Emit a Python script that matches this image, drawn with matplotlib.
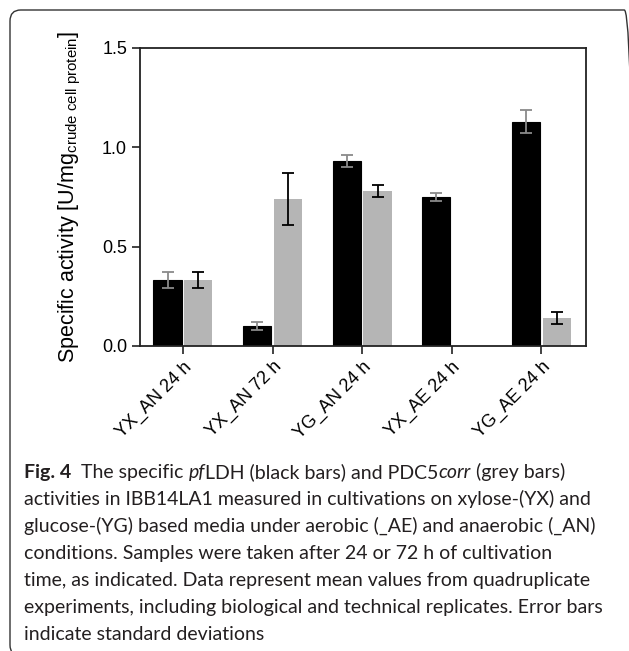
import matplotlib.pyplot as plt
import numpy as np
from matplotlib.patches import FancyBboxPatch

plt.rcParams['font.family'] = ['Liberation Sans', 'DejaVu Sans']
plt.rcParams['mathtext.fontset'] = 'custom'
plt.rcParams['mathtext.rm'] = 'Liberation Sans'
plt.rcParams['mathtext.it'] = 'Liberation Sans:italic'

# Samples (x axis)
samples = ['YX_AN 24 h', 'YX_AN 72 h', 'YG_AN 24 h', 'YX_AE 24 h', 'YG_AE 24 h']

# pfLDH (black bars)
ldh_mean = [0.33, 0.10, 0.93, 0.75, 1.13]
ldh_sd = [0.04, 0.02, 0.03, 0.02, 0.06]

# PDC5corr (grey bars), not measured for YX_AE 24 h
pdc_mean = [0.33, 0.74, 0.78, np.nan, 0.14]
pdc_sd = [0.04, 0.13, 0.03, np.nan, 0.03]

caption_lines = [
    'activities in IBB14LA1 measured in cultivations on xylose-(YX) and',
    'glucose-(YG) based media under aerobic (_AE) and anaerobic (_AN)',
    'conditions. Samples were taken after 24 or 72 h of cultivation',
    'time, as indicated. Data represent mean values from quadruplicate',
    'experiments, including biological and technical replicates. Error bars',
    'indicate standard deviations',
]

W, H = 629, 651
fig = plt.figure(figsize=(W / 100, H / 100), dpi=100)

# rounded frame around figure + caption (right and bottom edges fall off the canvas)
frame = FancyBboxPatch((10 / W, -5 / H), 625 / W, (H - 10 + 5) / H,
                       boxstyle='round,pad=0,rounding_size=0.017',
                       transform=fig.transFigure, fill=False,
                       edgecolor='#333333', linewidth=1.0)
fig.patches.append(frame)

ax = fig.add_axes([140 / W, (H - 346) / H, 446 / W, 298 / H])

x = np.arange(len(samples))
bw = 0.315
off = 0.172
fs = 13
ax.bar(x - off, ldh_mean, width=bw, color='black', edgecolor='black', linewidth=0.8)
ax.bar(x + off, pdc_mean, width=bw, color='#b5b5b5', linewidth=0)
ax.errorbar(x - off, ldh_mean, yerr=ldh_sd, fmt='none', ecolor='#8a8a8a',
            elinewidth=1.3, capsize=4.6, capthick=1.3)
ax.errorbar(x + off, pdc_mean, yerr=pdc_sd, fmt='none', ecolor='black',
            elinewidth=1.3, capsize=4.6, capthick=1.3)

ax.set_xlim(-0.48, 4.5)
ax.set_ylim(0, 1.5)
ax.set_yticks([0.0, 0.5, 1.0, 1.5])
ax.set_yticklabels(['0.0', '0.5', '1.0', '1.5'], fontsize=fs)
ax.set_xticks(x)
ax.set_xticklabels(samples, rotation=45, ha='right', rotation_mode='anchor', fontsize=fs)
ax.tick_params(axis='both', length=5.8, width=1.2, direction='out', color='#222222')
ax.tick_params(axis='x', pad=3)
for s in ax.spines.values():
    s.set_linewidth(1.3)
    s.set_color('#222222')
ax.set_ylabel(r'Specific activity [U/mg$_{\mathrm{crude\ cell\ protein}}$]', fontsize=15.5)
ax.yaxis.set_label_coords(-0.128, 0.5)

# caption
cap_font = 'Lato'
cap_size = 14.0
cap_color = '#231f20'
cap_x = 24 / W
baselines = [478, 505, 532, 559, 586, 613, 640]
pieces = [('Fig. 4', 'bold', 'normal'), ('  The specific ', 'normal', 'normal'),
          ('pf', 'normal', 'italic'), ('LDH (black bars) and PDC5', 'normal', 'normal'),
          ('corr', 'normal', 'italic'), (' (grey bars)', 'normal', 'normal')]
prev = fig.text(cap_x, 1 - baselines[0] / H, pieces[0][0], family=cap_font, size=cap_size,
                weight=pieces[0][1], style=pieces[0][2], color=cap_color,
                ha='left', va='baseline')
for txt, wgt, sty in pieces[1:]:
    prev = ax.annotate(txt, xy=(1, 0), xycoords=prev, ha='left', va='bottom',
                       family=cap_font, size=cap_size, weight=wgt, style=sty,
                       color=cap_color, annotation_clip=False)

for line, yb in zip(caption_lines, baselines[1:]):
    fig.text(cap_x, 1 - yb / H, line, family=cap_font, size=cap_size,
             color=cap_color, ha='left', va='baseline')

fig.savefig('out.png', dpi=100)
